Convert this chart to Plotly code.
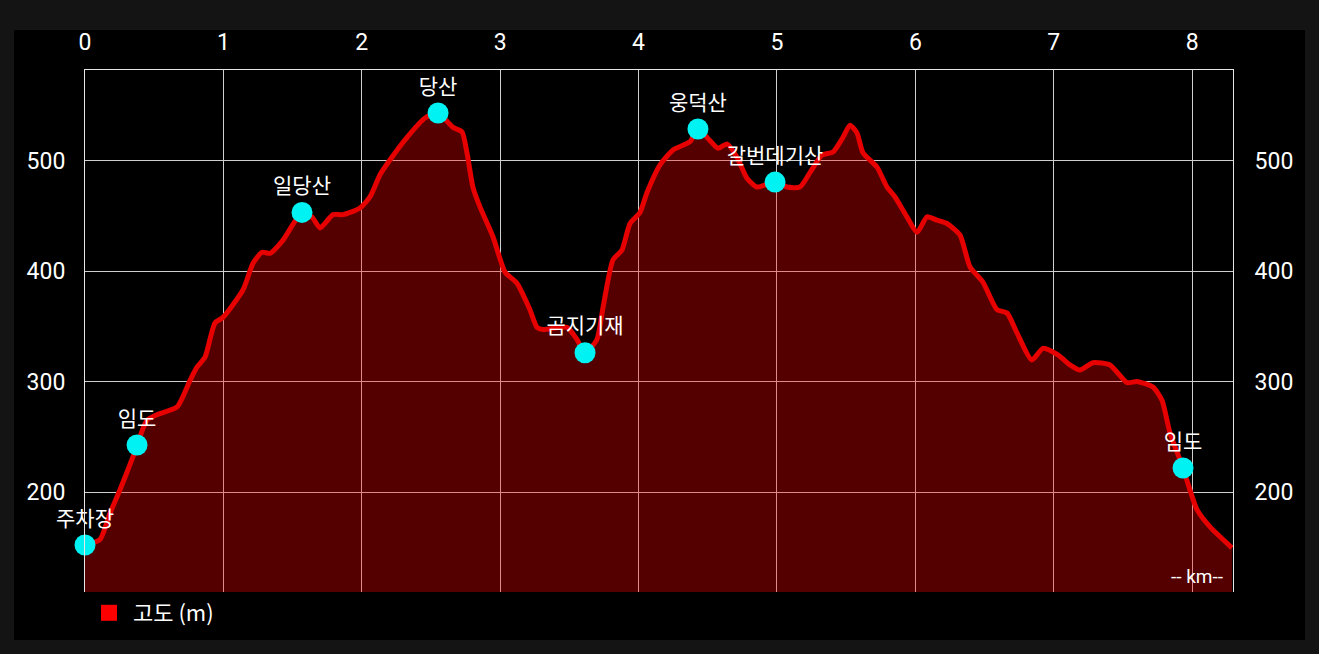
import plotly.graph_objects as go

# Elevation profile (distance in km, elevation in m)
dist_km = [0.000, 0.108, 0.181, 0.253, 0.347, 0.376, 0.448, 0.520, 0.665, 0.759,
           0.809, 0.867, 0.939, 0.997, 1.142, 1.214, 1.279, 1.337, 1.431, 1.568,
           1.640, 1.698, 1.792, 1.864, 1.987, 2.059, 2.131, 2.189, 2.327, 2.457,
           2.551, 2.659, 2.724, 2.760, 2.803, 2.854, 2.948, 3.035, 3.121, 3.215,
           3.266, 3.309, 3.483, 3.555, 3.613, 3.699, 3.743, 3.815, 3.880, 3.938,
           4.010, 4.061, 4.155, 4.249, 4.371, 4.429, 4.516, 4.574, 4.639, 4.711,
           4.783, 4.855, 4.986, 5.072, 5.166, 5.238, 5.325, 5.405, 5.477, 5.527,
           5.578, 5.621, 5.723, 5.795, 5.853, 5.939, 6.012, 6.084, 6.156, 6.228,
           6.322, 6.395, 6.488, 6.590, 6.662, 6.734, 6.842, 6.922, 7.030, 7.117,
           7.189, 7.283, 7.406, 7.529, 7.601, 7.717, 7.782, 7.840, 7.934, 8.035,
           8.129, 8.288]
elev_m = [152, 157, 181, 202, 232, 242.5, 265, 270, 277, 301,
          313, 322, 353, 358, 383, 407, 417, 416, 428, 453,
          449, 439, 451, 451, 457, 467, 487, 498, 521, 538.5,
          543, 530, 526, 507, 476, 458, 431, 399, 389, 365,
          349, 347, 349, 338, 326, 338, 367, 410, 419, 443,
          453, 471, 496, 509.5, 517, 528.5, 518, 511, 515, 503,
          484, 476, 480.5, 476, 476, 489, 505, 507.7, 521, 532,
          525, 507, 494, 476, 467, 449, 435, 449, 446, 443,
          432.6, 403.6, 390, 365, 362, 344, 319.5, 330, 324, 315,
          310.4, 317, 315, 299, 300, 295, 283, 253.4, 221.7, 184,
          168.4, 149.4]

# Waypoints
wp_names = ["주차장", "임도", "일당산", "당산", "곰지기재", "웅덕산", "갈번데기산", "임도"]
wp_km = [0.0, 0.376, 1.568, 2.551, 3.613, 4.429, 4.986, 7.934]
wp_elev = [152, 242.5, 453, 543, 326, 528.5, 480.5, 221.7]

x_ticks = [0, 1, 2, 3, 4, 5, 6, 7, 8]
y_ticks = [200, 300, 400, 500]
x_range = [0, 8.295]
y_range = [109.5, 581.9]

FONT = "Roboto, 'Noto Sans CJK KR', sans-serif"
KFONT = "'Noto Sans CJK KR', Roboto, sans-serif"

fig = go.Figure()

fig.add_trace(go.Scatter(
    x=dist_km, y=elev_m, mode="lines",
    line=dict(color="#e60000", width=5, shape="spline", smoothing=0.6),
    fill="tozeroy", fillcolor="rgba(255,0,0,0.33)",
    showlegend=False, hoverinfo="skip",
))

fig.add_trace(go.Scatter(
    x=wp_km, y=wp_elev, mode="markers+text",
    marker=dict(color="#00f2f2", size=21),
    text=wp_names, textposition="top center",
    textfont=dict(family=KFONT, size=21, color="white"),
    showlegend=False, cliponaxis=False,
))

# legend entry
fig.add_trace(go.Scatter(
    x=[None], y=[None], mode="markers", name="고도 (m)",
    marker=dict(symbol="square", color="#ff0000", size=21),
))

# invisible trace for right axis
fig.add_trace(go.Scatter(x=[None], y=[None], yaxis="y2", showlegend=False,
                         hoverinfo="skip"))

axis_line = "#e6e6e6"
grid = "#cfcfcf"

fig.update_layout(
    width=1319, height=654,
    margin=dict(l=85, r=86, t=70, b=62),
    paper_bgcolor="#141414",
    plot_bgcolor="#000000",
    font=dict(family=FONT, color="white"),
    xaxis=dict(side="top", range=x_range, tickvals=x_ticks,
               showgrid=True, gridcolor=grid, gridwidth=1, zeroline=False,
               showline=True, linecolor=axis_line, linewidth=1,
               tickfont=dict(size=23, color="white"), ticklabelstandoff=10),
    yaxis=dict(range=y_range, tickvals=y_ticks,
               showgrid=True, gridcolor=grid, gridwidth=1, zeroline=False,
               showline=True, linecolor=axis_line, linewidth=1,
               tickfont=dict(size=23, color="white"), ticklabelstandoff=14),
    yaxis2=dict(range=y_range, tickvals=y_ticks, overlaying="y", side="right",
                showgrid=False, zeroline=False,
                showline=True, linecolor=axis_line, linewidth=1,
                tickfont=dict(size=23, color="white"), ticklabelstandoff=16),
    legend=dict(orientation="h", x=0.0, y=0.0, xanchor="left", yanchor="top",
                font=dict(family=KFONT, size=22, color="white"),
                bgcolor="rgba(0,0,0,0)", itemwidth=38),
    shapes=[dict(type="rect", xref="paper", yref="paper",
                 x0=-0.0618, x1=1.0627, y0=-0.092, y1=1.0766,
                 fillcolor="#000000", line=dict(width=0), layer="below")],
    annotations=[dict(text="-- km--", xref="paper", yref="paper",
                      x=0.993, y=0.003, xanchor="right", yanchor="bottom",
                      showarrow=False,
                      font=dict(family=FONT, size=19, color="white"))],
)

fig.write_html(
    "out.html",
    config={"displayModeBar": False},
    post_script="document.body.style.margin='0';document.body.style.background='#141414';",
)
